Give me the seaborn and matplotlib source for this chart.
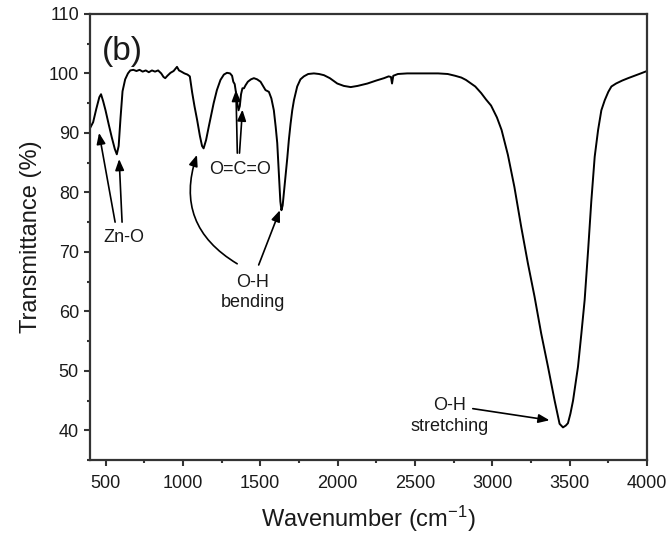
import matplotlib
matplotlib.use("Agg")
import matplotlib.pyplot as plt
from matplotlib.ticker import MultipleLocator
import seaborn as sns
import pandas as pd

# ---- data ----
wavenumber = [400, 420, 440, 460, 471, 485, 500, 520, 540, 560, 573, 585, 597, 610, 627, 645,
              660, 680, 700, 720, 740, 760, 780, 800, 820, 840, 860, 875, 886, 900, 920, 940,
              962, 975, 990, 1010, 1030, 1045, 1060, 1075, 1092, 1110, 1124, 1134, 1150, 1167,
              1185, 1199, 1220, 1243, 1265, 1285, 1305, 1318, 1326, 1335, 1345, 1352, 1360,
              1368, 1376, 1385, 1395, 1405, 1420, 1440, 1459, 1480, 1502, 1520, 1534, 1556,
              1572, 1588, 1600, 1610, 1620, 1630, 1637, 1645, 1655, 1665, 1675, 1685, 1696,
              1707, 1718, 1739, 1760, 1782, 1810, 1847, 1880, 1912, 1950, 1998, 2040, 2085,
              2130, 2193, 2250, 2300, 2330, 2345, 2352, 2360, 2390, 2450, 2550, 2650, 2712,
              2760, 2800, 2830, 2863, 2890, 2928, 2960, 2992, 3030, 3060, 3101, 3143, 3187,
              3230, 3273, 3316, 3360, 3403, 3435, 3457, 3475, 3489, 3505, 3522, 3554, 3576,
              3597, 3620, 3640, 3662, 3684, 3705, 3727, 3750, 3770, 3800, 3840, 3878, 3920,
              3960, 4000]
transmittance = [90.8, 91.8, 94.0, 96.0, 96.5, 95.3, 93.8, 91.5, 89.3, 87.3, 86.4, 87.8, 92.5,
                 97.0, 99.0, 100.0, 100.5, 100.6, 100.4, 100.6, 100.3, 100.5, 100.2, 100.5,
                 100.3, 100.5, 100.0, 99.4, 99.2, 99.6, 100.1, 100.4, 101.1, 100.5, 100.3,
                 100.0, 99.8, 99.5, 96.8, 94.5, 92.2, 89.5, 87.8, 87.4, 88.8, 91.0, 93.2, 95.0,
                 97.2, 98.9, 99.8, 100.1, 100.0, 99.6, 98.6, 98.2, 96.5, 95.0, 93.8, 94.5,
                 96.5, 97.5, 97.5, 98.0, 98.6, 99.0, 99.2, 99.0, 98.6, 97.8, 97.2, 96.9, 95.8,
                 93.8, 91.0, 88.3, 83.5, 78.5, 77.0, 77.8, 80.5, 83.2, 85.8, 88.8, 91.5, 93.8,
                 95.5, 97.8, 99.0, 99.5, 99.9, 100.0, 99.9, 99.7, 99.2, 98.3, 97.9, 97.7, 97.9,
                 98.3, 98.8, 99.2, 99.5, 99.4, 98.3, 99.6, 99.9, 100.0, 100.0, 100.0, 99.9,
                 99.6, 99.3, 98.9, 98.3, 97.8, 96.7, 95.6, 94.6, 92.6, 90.5, 86.3, 80.9, 74.2,
                 68.1, 62.5, 56.3, 50.7, 45.0, 41.1, 40.5, 40.8, 41.2, 42.8, 45.0, 50.7, 56.3,
                 61.9, 70.5, 78.5, 86.0, 90.5, 93.8, 95.5, 96.9, 97.8, 98.3, 98.8, 99.2, 99.6,
                 100.0, 100.4]

x_ticks = [500, 1000, 1500, 2000, 2500, 3000, 3500, 4000]
y_ticks = [40, 50, 60, 70, 80, 90, 100, 110]

panel_label = "(b)"
x_label = "Wavenumber (cm$^{-1}$)"
y_label = "Transmittance (%)"

df = pd.DataFrame({"wavenumber": wavenumber, "transmittance": transmittance})

sns.set_theme(style="ticks")
plt.rcParams["font.family"] = ["Liberation Sans", "DejaVu Sans"]
plt.rcParams["mathtext.fontset"] = "custom"
plt.rcParams["mathtext.rm"] = "Liberation Sans"
plt.rcParams["mathtext.it"] = "Liberation Sans"

fig = plt.figure(figsize=(6.67, 5.35), dpi=100)
ax = fig.add_axes([0.135, 0.140, 0.835, 0.834])

sns.lineplot(data=df, x="wavenumber", y="transmittance", ax=ax, color="black",
             linewidth=1.4, estimator=None)

ax.set_xlim(400, 4000)
ax.set_ylim(35, 110)
ax.set_xticks(x_ticks)
ax.set_yticks(y_ticks)
ax.xaxis.set_minor_locator(MultipleLocator(250))
ax.yaxis.set_minor_locator(MultipleLocator(5))

tc = "#1a1a1a"
for s in ax.spines.values():
    s.set_visible(True)
    s.set_linewidth(1.6)
    s.set_color("#333333")
ax.tick_params(which="major", direction="out", length=4, width=1.5, colors="#333333",
               labelsize=13, labelcolor=tc)
ax.tick_params(which="minor", direction="out", length=2, width=1.5, colors="#333333")
ax.tick_params(axis="x", which="major", pad=7)
ax.tick_params(axis="y", which="major", pad=4)

ax.set_xlabel(x_label, fontsize=17, color=tc)
ax.set_ylabel(y_label, fontsize=17, color=tc)
ax.xaxis.set_label_coords(0.5, -0.097)
ax.yaxis.set_label_coords(-0.086, 0.5)

# panel label
ax.text(476, 102.3, panel_label, fontsize=24, color=tc, ha="left", va="baseline")

ann_fs = 13
ap = dict(arrowstyle="-|>,head_length=0.55,head_width=0.22", mutation_scale=12,
          lw=1.2, color="black", shrinkA=0, shrinkB=0)

# Zn-O
ax.text(620, 72.5, "Zn-O", fontsize=ann_fs, color=tc, ha="center", va="center")
ax.annotate("", xy=(458, 90.0), xytext=(562, 75.0), arrowprops=ap)
ax.annotate("", xy=(588, 85.6), xytext=(607, 75.0), arrowprops=ap)

# O=C=O
ax.text(1372, 83.8, "O=C=O", fontsize=ann_fs, color=tc, ha="center", va="center")
ax.annotate("", xy=(1343, 97.2), xytext=(1352, 86.6), arrowprops=ap)
ax.annotate("", xy=(1385, 93.9), xytext=(1366, 86.6), arrowprops=ap)

# O-H bending
ax.text(1450, 63.2, "O-H\nbending", fontsize=ann_fs, color=tc, ha="center", va="center",
        linespacing=1.25)
ap_curve = dict(ap, connectionstyle="arc3,rad=-0.4")
ax.annotate("", xy=(1091, 86.3), xytext=(1351, 68.0), arrowprops=ap_curve)
ax.annotate("", xy=(1627, 77.0), xytext=(1490, 67.8), arrowprops=ap)

# O-H stretching
ax.text(2725, 42.4, "O-H\nstretching", fontsize=ann_fs, color=tc, ha="center", va="center",
        linespacing=1.25)
ax.annotate("", xy=(3370, 41.7), xytext=(2874, 43.65), arrowprops=ap)

fig.savefig("out.png", dpi=100)
